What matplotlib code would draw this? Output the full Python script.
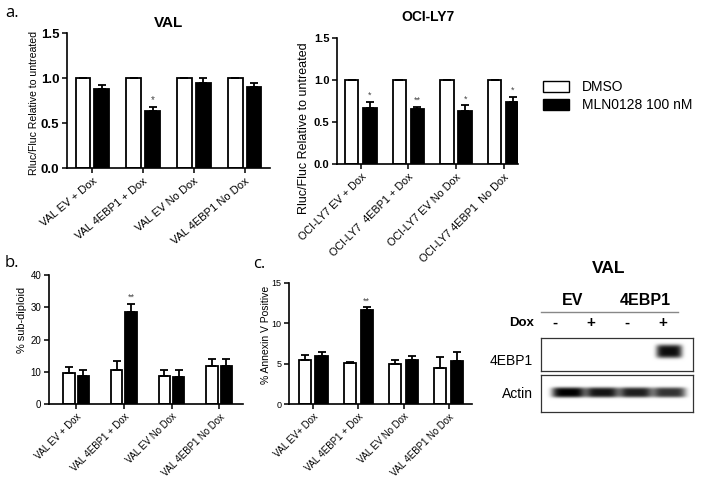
import numpy as np
import matplotlib
matplotlib.use("Agg")
import matplotlib.pyplot as plt
import matplotlib.transforms as mtransforms
from matplotlib.patches import Patch

plt.rcParams['font.family'] = ['Liberation Sans', 'DejaVu Sans']

# ---- data ----
val_groups = ["VAL EV + Dox", "VAL 4EBP1 + Dox", "VAL EV No Dox", "VAL 4EBP1 No Dox"]
val_dmso = [1.0, 1.0, 1.0, 1.0]
val_dmso_err = [0.0, 0.0, 0.0, 0.0]
val_mln = [0.88, 0.63, 0.94, 0.90]
val_mln_err = [0.04, 0.05, 0.06, 0.05]
val_stars = ["", "*", "", ""]

oci_groups = ["OCI-LY7 EV + Dox", "OCI-LY7  4EBP1 + Dox", "OCI-LY7 EV No Dox", "OCI-LY7 4EBP1  No Dox"]
oci_dmso = [1.0, 1.0, 1.0, 1.0]
oci_dmso_err = [0.0, 0.0, 0.0, 0.0]
oci_mln = [0.67, 0.65, 0.63, 0.74]
oci_mln_err = [0.07, 0.03, 0.07, 0.06]
oci_stars = ["*", "**", "*", "*"]

subdip_groups = ["VAL EV + Dox", "VAL 4EBP1 + Dox", "VAL EV No Dox", "VAL 4EBP1 No Dox"]
subdip_dmso = [9.5, 10.5, 8.7, 11.9]
subdip_dmso_err = [2.0, 2.8, 1.7, 2.1]
subdip_mln = [8.8, 28.5, 8.5, 11.9]
subdip_mln_err = [1.8, 2.5, 2.1, 2.0]
subdip_stars = ["", "**", "", ""]

annex_groups = ["VAL EV+ Dox", "VAL 4EBP1 + Dox", "VAL EV No Dox", "VAL 4EBP1 No Dox"]
annex_dmso = [5.4, 5.1, 4.9, 4.5]
annex_dmso_err = [0.7, 0.1, 0.5, 1.3]
annex_mln = [5.9, 11.6, 5.5, 5.3]
annex_mln_err = [0.6, 0.4, 0.5, 1.1]
annex_stars = ["", "**", "", ""]

legend_labels = ["DMSO", "MLN0128 100 nM"]

# western blot: relative band intensity per lane
blot_dox = ["-", "+", "-", "+"]
blot_constructs = ["EV", "4EBP1"]
blot_rows = ["4EBP1", "Actin"]
band_4ebp1 = [0.0, 0.0, 0.0, 0.95]
band_actin = [1.0, 0.92, 0.88, 0.8]

W, H = 701, 479
fig = plt.figure(figsize=(W / 100, H / 100), dpi=100)


def px_axes(x0, y0, x1, y1):
    return fig.add_axes([x0 / W, 1 - y1 / H, (x1 - x0) / W, (y1 - y0) / H])


def bar_panel(ax, labels, white, white_err, black, black_err, stars, width, gap,
              ylim, yticks, fmt, tick_fs, tick_bold, xlab_fs, xrot, star_fs):
    x = np.arange(len(labels))
    off = (width + gap) / 2
    ekw = dict(ecolor='black', elinewidth=1.3, capsize=3, capthick=1.3)
    ax.bar(x - off, white, width, color='white', edgecolor='black', linewidth=1.3,
           yerr=[np.zeros(len(x)), white_err], error_kw=ekw, zorder=2)
    ax.bar(x + off, black, width, color='black', edgecolor='black', linewidth=1.3,
           yerr=[np.zeros(len(x)), black_err], error_kw=ekw, zorder=2)
    for i, s in enumerate(stars):
        if s:
            ax.text(x[i] + off, black[i] + black_err[i] + ylim[1] * 0.015, s,
                    ha='center', va='bottom', fontsize=star_fs, color='#444444')
    ax.set_ylim(*ylim)
    ax.set_yticks(yticks)
    ax.set_yticklabels([fmt.format(t) for t in yticks], fontsize=tick_fs,
                       fontweight='bold' if tick_bold else 'normal')
    ax.set_xticks(x)
    ax.set_xticklabels(labels, rotation=xrot, ha='right', va='top',
                       rotation_mode='anchor', fontsize=xlab_fs)
    for sp in ['top', 'right']:
        ax.spines[sp].set_visible(False)
    for sp in ['left', 'bottom']:
        ax.spines[sp].set_linewidth(1.2)
    ax.tick_params(axis='both', length=3.5, width=1.1, pad=2)
    return x


# ---- a. VAL ----
ax1 = px_axes(67, 33, 270, 168)
bar_panel(ax1, val_groups, val_dmso, val_dmso_err, val_mln, val_mln_err, val_stars,
          0.29, 0.08, (0, 1.5), [0, 0.5, 1.0, 1.5], "{:.1f}", 9.5, True, 8, 40, 7)
ax1.set_xlim(-0.5, 3.5)
ax1.set_title("VAL", fontsize=11, fontweight='bold', pad=4)
ax1.set_ylabel("Rluc/Fluc Relative to untreated", fontsize=7.6)
ax1.yaxis.set_label_coords(-0.138, 0.478)

# ---- a. OCI-LY7 ----
ax2 = px_axes(337, 38, 518, 164)
bar_panel(ax2, oci_groups, oci_dmso, oci_dmso_err, oci_mln, oci_mln_err, oci_stars,
          0.28, 0.1, (0, 1.5), [0, 0.5, 1.0, 1.5], "{:.1f}", 8, True, 7.8, 45, 6.5)
ax2.set_xlim(-0.5, 3.3)
ax2.set_title("OCI-LY7", fontsize=10, fontweight='bold', pad=12)
ax2.set_ylabel("Rluc/Fluc Relative to untreated", fontsize=9)
ax2.yaxis.set_label_coords(-0.149, 0.286)

handles = [Patch(facecolor='white', edgecolor='black', linewidth=1.0),
           Patch(facecolor='black', edgecolor='black', linewidth=1.0)]
fig.legend(handles, legend_labels, loc='upper left', bbox_to_anchor=(543 / W, 1 - 80 / H),
           frameon=False, fontsize=10, handlelength=1.87, handleheight=0.85,
           labelspacing=0.3, handletextpad=0.94, borderpad=0, borderaxespad=0)

# ---- b. sub-diploid ----
ax3 = px_axes(49, 275, 243, 404)
bar_panel(ax3, subdip_groups, subdip_dmso, subdip_dmso_err, subdip_mln, subdip_mln_err,
          subdip_stars, 0.24, 0.065, (0, 40), [0, 10, 20, 30, 40], "{:d}", 7, False, 6.9, 45, 6.5)
ax3.set_xlim(-0.57, 3.5)
ax3.set_ylabel("% sub-diploid", fontsize=7.9)
ax3.yaxis.set_label_coords(-0.113, 0.65)

# ---- c. Annexin V ----
ax4 = px_axes(289, 283, 472, 404)
bar_panel(ax4, annex_groups, annex_dmso, annex_dmso_err, annex_mln, annex_mln_err,
          annex_stars, 0.265, 0.11, (0, 15), [0, 5, 10, 15], "{:d}", 6.5, False, 6.9, 45, 6.5)
ax4.set_xlim(-0.53, 3.51)
ax4.set_ylabel("% Annexin V Positive", fontsize=7.5)
ax4.yaxis.set_label_coords(-0.098, 0.57)

# panel letters
fig.text(5 / W, 1 - 13 / H, "a.", fontsize=12, family='Open Sans', va='center')
fig.text(5 / W, 1 - 263 / H, "b.", fontsize=12, family='Open Sans', va='center')
fig.text(253 / W, 1 - 264 / H, "c.", fontsize=12, family='Open Sans', va='center')

# ---- western blot ----
lanes = np.arange(len(blot_dox))
lane_xlim = (-0.39, 3.83)
band_pos = lanes * 0.935 + 0.37   # bands sit a little right of the lane labels


def blot_image(ax, intens, band_w, band_y, band_h):
    xs = np.linspace(lane_xlim[0], lane_xlim[1], 300)
    ys = np.linspace(0, 1, 80)
    X, Y = np.meshgrid(xs, ys)
    img = np.zeros_like(X)
    for i, v in enumerate(intens):
        img += v * np.exp(-np.abs((X - band_pos[i]) / band_w) ** 5) * np.exp(-((Y - band_y) / band_h) ** 4)
    ax.imshow(np.clip(img, 0, 1), cmap='gray_r', vmin=0, vmax=1, aspect='auto',
              extent=[lane_xlim[0], lane_xlim[1], 0, 1], origin='lower', interpolation='bilinear')
    ax.set_xlim(*lane_xlim)
    ax.set_ylim(0, 1)
    ax.set_xticks([])
    ax.set_yticks([])
    for sp in ax.spines.values():
        sp.set_linewidth(0.9)
        sp.set_color('#333333')


axb1 = px_axes(541, 338, 693, 371)
blot_image(axb1, band_4ebp1, 0.36, 0.58, 0.2)
axb2 = px_axes(541, 375, 693, 412)
blot_image(axb2, band_actin, 0.46, 0.53, 0.14)

tr = mtransforms.blended_transform_factory(axb1.transData, axb1.transAxes)
for i, s in enumerate(blot_dox):
    axb1.text(lanes[i], 1.45, s, transform=tr, ha='center', va='center',
              fontsize=11, fontweight='bold', clip_on=False)
axb1.text(-0.92, 1.45, "Dox", transform=tr, ha='center', va='center',
          fontsize=9.5, fontweight='bold', clip_on=False)
for j, c in enumerate(blot_constructs):
    axb1.text(lanes[2 * j:2 * j + 2].mean(), 2.15, c, transform=tr, ha='center', va='center',
              fontsize=11.5, fontweight='bold', clip_on=False)
axb1.plot([-0.39, 3.42], [1.79, 1.79], transform=tr, color='#888888', lw=1, clip_on=False)
axb1.text(lanes.mean(), 3.12, "VAL", transform=tr, ha='center', va='center',
          fontsize=12.5, fontweight='bold', clip_on=False)
axb1.text(-0.62, 0.3, blot_rows[0], transform=tr, ha='right', va='center', fontsize=10, clip_on=False)
axb2.text(-0.62, 0.5, blot_rows[1], transform=mtransforms.blended_transform_factory(axb2.transData, axb2.transAxes),
          ha='right', va='center', fontsize=10, clip_on=False)

fig.savefig("out.png", dpi=100)
